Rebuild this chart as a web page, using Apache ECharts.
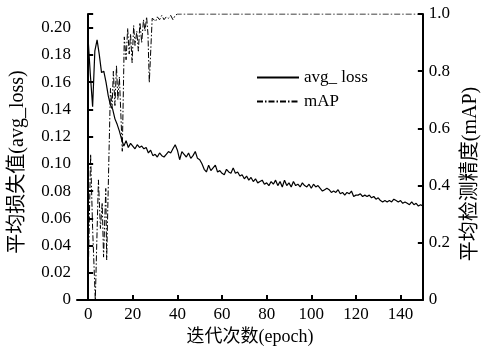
<!DOCTYPE html>
<html><head><meta charset="utf-8">
<script src="https://cdn.jsdelivr.net/npm/echarts@6/dist/echarts.min.js"></script>
<style>html,body{margin:0;padding:0;background:#fff}#c{width:489px;height:351px}</style>
</head><body><div id="c"></div>
<script>
const lossValues = [0.191,0.165,0.142,0.183,0.191,0.180,0.167,0.168,0.160,0.150,
0.143,0.140,0.133,0.129,0.124,0.118,0.113,0.117,0.112,0.115,
0.113,0.111,0.114,0.112,0.113,0.111,0.112,0.108,0.110,0.106,
0.107,0.105,0.108,0.106,0.105,0.107,0.109,0.108,0.111,0.114,
0.110,0.103,0.109,0.107,0.105,0.108,0.104,0.106,0.109,0.104,
0.103,0.100,0.096,0.094,0.099,0.095,0.097,0.099,0.094,0.095,
0.093,0.092,0.096,0.094,0.093,0.097,0.093,0.094,0.091,0.092,
0.089,0.091,0.088,0.090,0.087,0.089,0.086,0.087,0.088,0.085,
0.086,0.084,0.087,0.085,0.088,0.084,0.087,0.083,0.088,0.084,
0.086,0.083,0.087,0.084,0.085,0.083,0.086,0.084,0.083,0.085,
0.082,0.085,0.083,0.084,0.082,0.080,0.081,0.082,0.081,0.079,
0.080,0.079,0.081,0.078,0.079,0.077,0.079,0.078,0.080,0.076,
0.077,0.077,0.078,0.076,0.077,0.076,0.077,0.075,0.076,0.074,
0.075,0.073,0.072,0.073,0.072,0.073,0.072,0.074,0.073,0.072,
0.073,0.071,0.072,0.071,0.070,0.072,0.070,0.071,0.069,0.070,0.069];
const lossEpochs = lossValues.map((v, i) => i);
const mapEpochs = [0,1.1,2,3.2,4.6,5.5,6.3,6.9,7.9,8.3,9.3,10,10.7,11.3,12,12.7,13.3,14,14.6,15.3,
16.2,17,17.7,18.4,19,19.7,20.4,21,21.8,22.5,23.2,24,24.8,25.5,26.2,26.8,27.4,28.7,29.5,30.3,
31,32,33,34,35,36,37,38,39,40,60,80,100,120,150];
const mapValues = [0.07,0.51,0.25,0.0,0.42,0.25,0.34,0.15,0.39,0.14,0.50,0.74,0.67,0.80,0.68,0.82,0.70,0.78,0.66,0.52,
0.92,0.84,0.95,0.86,0.93,0.83,0.96,0.89,0.94,0.87,0.97,0.90,0.98,0.94,0.99,0.93,0.76,0.985,0.99,0.975,
0.99,0.98,0.995,0.98,0.99,0.985,0.995,0.98,0.995,1.0,1.0,1.0,1.0,1.0,1.0];
const xTicks = [0,20,40,60,80,100,120,140];
const leftTicks = [0,0.02,0.04,0.06,0.08,0.10,0.12,0.14,0.16,0.18,0.20];
const rightTicks = [0,0.2,0.4,0.6,0.8,1.0];

const serif = '"Liberation Serif","Noto Sans CJK SC",serif';
const lab = {color:'#000', fontFamily: serif, fontSize: 17};
const axLine = {show:true, lineStyle:{color:'#000', width:2}};
const chart = echarts.init(document.getElementById('c'), null, {renderer:'canvas'});
chart.setOption({
  animation:false,
  textStyle:{fontFamily:serif},
  grid:{left:75, right:55, top:14, bottom:51, containLabel:false},
  legend:{
    orient:'vertical', left:251, top:64, itemWidth:42, itemHeight:14, itemGap:7,
    itemStyle:{opacity:0},
    textStyle:{color:'#000', fontFamily:serif, fontSize:17},
    data:[{name:'avg_ loss'},{name:'mAP'}]
  },
  xAxis:{
    type:'value', min:-5, max:150,
    axisLine:axLine,
    axisTick:{show:true, inside:true, length:5, lineStyle:{color:'#000', width:2}, customValues:xTicks},
    axisLabel:Object.assign({margin:6, customValues:xTicks}, lab),
    splitLine:{show:false},
    name:'迭代次数(epoch)', nameLocation:'middle', nameGap:28,
    nameTextStyle:{color:'#000', fontFamily:serif, fontSize:18}
  },
  yAxis:[{
    type:'value', min:0, max:0.21,
    axisLine:axLine,
    axisTick:{show:true, inside:true, length:5, lineStyle:{color:'#000', width:2}, customValues:leftTicks.concat([0.21])},
    axisLabel:Object.assign({margin:6, customValues:leftTicks, formatter:v => v === 0 ? '0' : v.toFixed(2)}, lab),
    splitLine:{show:false},
    name:'平均损失值(avg_loss)', nameLocation:'middle', nameRotate:90, nameGap:49,
    nameTextStyle:{color:'#000', fontFamily:serif, fontSize:20, padding:[0,10,0,0]}
  },{
    type:'value', min:0, max:1.0, position:'right',
    axisLine:axLine,
    axisTick:{show:true, inside:true, length:5, lineStyle:{color:'#000', width:2}, customValues:rightTicks},
    axisLabel:Object.assign({margin:6, customValues:rightTicks, formatter:v => v === 0 ? '0' : v.toFixed(1)}, lab),
    splitLine:{show:false},
    name:'平均检测精度(mAP)', nameLocation:'middle', nameRotate:90, nameGap:30,
    nameTextStyle:{color:'#000', fontFamily:serif, fontSize:20, padding:[0,34,0,0]}
  }],
  series:[{
    name:'avg_ loss', type:'line', yAxisIndex:0, showSymbol:false, symbol:'none',
    lineStyle:{color:'#000', width:1.2},
    itemStyle:{color:'#000'},
    data: lossEpochs.map((e, i) => [e, lossValues[i]])
  },{
    name:'mAP', type:'line', yAxisIndex:1, showSymbol:false, symbol:'none',
    lineStyle:{color:'#000', width:1, type:[6,2,1.5,2]},
    itemStyle:{color:'#000'},
    data: mapEpochs.map((e, i) => [e, mapValues[i]])
  }]
});
</script></body></html>
